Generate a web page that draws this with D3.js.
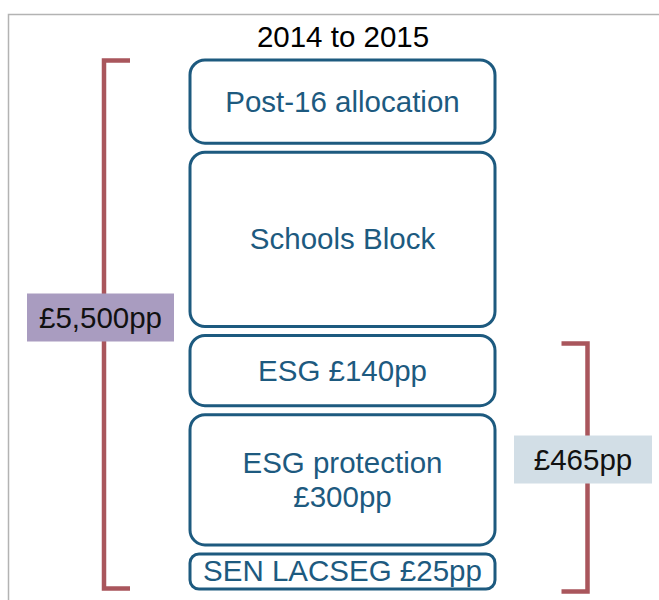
<!DOCTYPE html>
<html lang="en">
<head>
  <meta charset="utf-8">
  <title>2014 to 2015</title>
  <script src="https://d3js.org/d3.v7.min.js"></script>
  <style>
    body { margin: 0; background: #fff; }
    text { font-family: "Liberation Sans", Arial, sans-serif; }
    .block { fill: #fff; stroke: #1d5a7f; stroke-width: 3px; }
    .block-label { fill: #1d5a7f; font-size: 29.5px; }
    .bracket { fill: none; stroke: #a9565c; stroke-width: 4.5px; }
    .tag-label { fill: #111; font-size: 29.5px; }
  </style>
</head>
<body>
<div id="chart"></div>
<script>
  // data
  var title = "2014 to 2015";
  var blockNames = [["Post-16 allocation"], ["Schools Block"], ["ESG £140pp"], ["ESG protection", "£300pp"], ["SEN LACSEG £25pp"]];
  var blockWeights = [83, 174, 70, 130, 35];
  var bracketLabels = ["£5,500pp", "£465pp"];
  var bracketFrom = [0, 2];
  var bracketTo = [4, 4];

  var width = 659, height = 600, gap = 9;

  var svg = d3.select("#chart").append("svg")
      .attr("width", width)
      .attr("height", height);

  // frame
  svg.append("path")
      .attr("d", "M8.5," + height + "V14.5H" + width)
      .attr("fill", "none")
      .attr("stroke", "#b3b3b3")
      .attr("stroke-width", 1.5);

  svg.append("text")
      .attr("x", 343).attr("y", 47)
      .attr("text-anchor", "middle")
      .style("font-size", "29.5px")
      .attr("fill", "#000")
      .text(title);

  // stack blocks
  var tops = [], acc = 0;
  blockWeights.forEach(function(w) { tops.push(acc); acc += w + gap; });
  var total = acc - gap;

  var y = d3.scaleLinear().domain([0, total]).range([60, 589]);
  var x0 = 190, x1 = 495;

  var blocks = svg.selectAll(".blk")
      .data(blockNames.map(function(n, i) { return {names: n, top: tops[i], w: blockWeights[i]}; }))
    .enter().append("g").attr("class", "blk");

  blocks.append("rect")
      .attr("class", "block")
      .attr("x", x0)
      .attr("y", function(d) { return y(d.top); })
      .attr("width", x1 - x0)
      .attr("height", function(d) { return y(d.top + d.w) - y(d.top); })
      .attr("rx", function(d) { return d.w < 50 ? 9 : 15; });

  blocks.each(function(d) {
    var mid = (y(d.top) + y(d.top + d.w)) / 2;
    var lh = 34;
    var first = mid + 10 - (d.names.length - 1) * lh / 2;
    if (d.w < 50) first = mid + 10;
    d3.select(this).selectAll(".block-label")
        .data(d.names)
      .enter().append("text")
        .attr("class", "block-label")
        .attr("x", (x0 + x1) / 2)
        .attr("y", function(t, j) { return first + j * lh; })
        .attr("text-anchor", "middle")
        .text(function(t) { return t; });
  });

  // brackets
  var side = [
    {x: 104, arm: 26, fill: "#a99cc0", top: 0.5, bot: -0.5, lift: 7, cx: 100.5, bw: 147},
    {x: 587.5, arm: -26, fill: "#d2dee6", top: 8, bot: 2.5, lift: 8, cx: 583, bw: 138}
  ];

  bracketLabels.forEach(function(lab, i) {
    var s = side[i];
    var yt = y(tops[bracketFrom[i]]) + s.top;
    var yb = y(tops[bracketTo[i]] + blockWeights[bracketTo[i]]) + s.bot;
    svg.append("path")
        .attr("class", "bracket")
        .attr("d", "M" + (s.x + s.arm) + "," + yt + "H" + s.x + "V" + yb + "H" + (s.x + s.arm));

    var cy = (yt + yb) / 2 - s.lift;
    var g = svg.append("g");
    g.append("rect")
        .attr("fill", s.fill)
        .attr("x", s.cx - s.bw / 2)
        .attr("y", cy - 24)
        .attr("width", s.bw)
        .attr("height", 48);
    g.append("text")
        .attr("class", "tag-label")
        .attr("x", s.cx)
        .attr("y", cy + 10)
        .attr("text-anchor", "middle")
        .text(lab);
  });
</script>
</body>
</html>
